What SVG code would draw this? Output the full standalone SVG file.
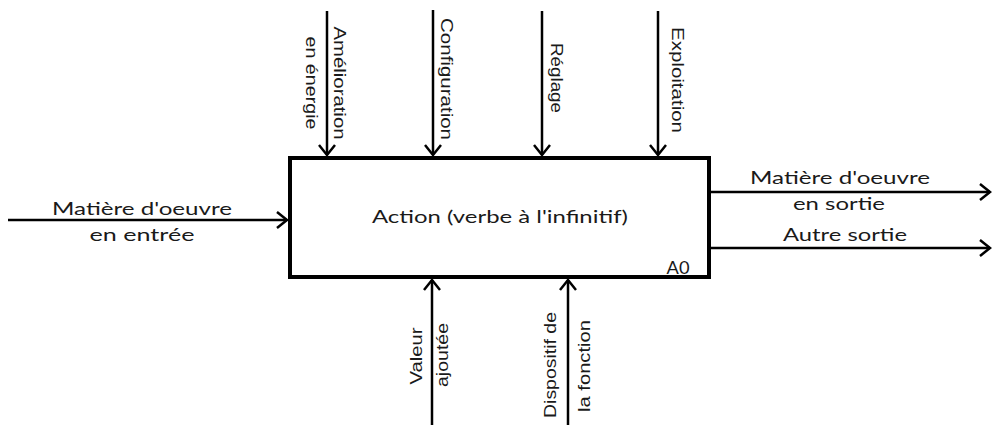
<svg xmlns="http://www.w3.org/2000/svg" width="993" height="425" viewBox="0 0 993 425">
  <style>
    .wire { stroke: #000; stroke-width: 2.5; fill: none; }
    .box { stroke: #000; stroke-width: 4; fill: #fff; }
    .lbl { font-family: Lato, "Liberation Sans", sans-serif; font-size: 18px; fill: #1a1a1a; }
    .vlbl { font-family: "Liberation Sans Narrow", "Liberation Sans", sans-serif; font-size: 16.5px; fill: #1a1a1a; }
  </style>
  <defs>
    <marker id="chev" markerWidth="14" markerHeight="18" refX="11" refY="9" orient="auto" markerUnits="userSpaceOnUse">
      <path d="M1,1 L11,9 L1,17" fill="none" stroke="#000" stroke-width="2.5"/>
    </marker>
  </defs>

  <!-- activity box A0 -->
  <g id="node-a0">
    <rect class="box" x="290" y="158" width="419" height="119"/>
    <text class="lbl" x="500" y="223" text-anchor="middle" textLength="256" lengthAdjust="spacingAndGlyphs">Action (verbe à l'infinitif)</text>
    <text class="lbl" x="678" y="274" text-anchor="middle" textLength="23" lengthAdjust="spacingAndGlyphs">A0</text>
  </g>

  <!-- arrows: controls, input, outputs, mechanisms -->
  <g id="connectors">
    <line class="wire" x1="327" y1="11" x2="327" y2="155" marker-end="url(#chev)"/>
    <line class="wire" x1="433" y1="10" x2="433" y2="155" marker-end="url(#chev)"/>
    <line class="wire" x1="542" y1="11" x2="542" y2="155" marker-end="url(#chev)"/>
    <line class="wire" x1="658" y1="11" x2="658" y2="155" marker-end="url(#chev)"/>
    <line class="wire" x1="8" y1="220" x2="287" y2="220" marker-end="url(#chev)"/>
    <line class="wire" x1="711" y1="192" x2="990" y2="192" marker-end="url(#chev)"/>
    <line class="wire" x1="711" y1="248" x2="990" y2="248" marker-end="url(#chev)"/>
    <line class="wire" x1="432" y1="425" x2="432" y2="280" marker-end="url(#chev)"/>
    <line class="wire" x1="568" y1="425" x2="568" y2="280" marker-end="url(#chev)"/>
  </g>

  <!-- control labels (read top to bottom) -->
  <g id="label-amelioration">
    <text class="vlbl" transform="translate(334,83) rotate(90)" text-anchor="middle" textLength="113" lengthAdjust="spacingAndGlyphs">Amélioration</text>
    <text class="vlbl" transform="translate(306,83) rotate(90)" text-anchor="middle" textLength="93" lengthAdjust="spacingAndGlyphs">en énergie</text>
  </g>
  <g id="label-configuration">
    <text class="vlbl" transform="translate(441,79) rotate(90)" text-anchor="middle" textLength="122" lengthAdjust="spacingAndGlyphs">Configuration</text>
  </g>
  <g id="label-reglage">
    <text class="vlbl" transform="translate(551,78) rotate(90)" text-anchor="middle" textLength="70" lengthAdjust="spacingAndGlyphs">Réglage</text>
  </g>
  <g id="label-exploitation">
    <text class="vlbl" transform="translate(672,80) rotate(90)" text-anchor="middle" textLength="106" lengthAdjust="spacingAndGlyphs">Exploitation</text>
  </g>

  <!-- input label -->
  <g id="label-entree">
    <text class="lbl" x="142" y="215" text-anchor="middle" textLength="180" lengthAdjust="spacingAndGlyphs">Matière d'oeuvre</text>
    <text class="lbl" x="142" y="241" text-anchor="middle" textLength="105" lengthAdjust="spacingAndGlyphs">en entrée</text>
  </g>

  <!-- output labels -->
  <g id="label-sortie">
    <text class="lbl" x="840" y="184" text-anchor="middle" textLength="180" lengthAdjust="spacingAndGlyphs">Matière d'oeuvre</text>
    <text class="lbl" x="839" y="210" text-anchor="middle" textLength="92" lengthAdjust="spacingAndGlyphs">en sortie</text>
  </g>
  <g id="label-autre-sortie">
    <text class="lbl" x="845" y="241" text-anchor="middle" textLength="124" lengthAdjust="spacingAndGlyphs">Autre sortie</text>
  </g>

  <!-- mechanism labels (read bottom to top) -->
  <g id="label-valeur">
    <text class="vlbl" transform="translate(422,356) rotate(-90)" text-anchor="middle" textLength="57" lengthAdjust="spacingAndGlyphs">Valeur</text>
    <text class="vlbl" transform="translate(448,355) rotate(-90)" text-anchor="middle" textLength="64" lengthAdjust="spacingAndGlyphs">ajoutée</text>
  </g>
  <g id="label-dispositif">
    <text class="vlbl" transform="translate(556,365) rotate(-90)" text-anchor="middle" textLength="106" lengthAdjust="spacingAndGlyphs">Dispositif de</text>
    <text class="vlbl" transform="translate(590,366) rotate(-90)" text-anchor="middle" textLength="92" lengthAdjust="spacingAndGlyphs">la fonction</text>
  </g>
</svg>
